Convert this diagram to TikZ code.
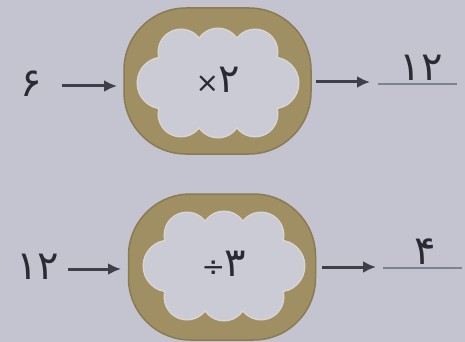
\documentclass[tikz,border=0pt]{standalone}
\usepackage{fontspec}
\newfontfamily\fa{DejaVu Sans}
\usetikzlibrary{arrows.meta}
\definecolor{bg}{HTML}{C3C4CF}
\definecolor{olivefill}{HTML}{9F8F63}
\definecolor{olivedark}{HTML}{8A7B52}
\definecolor{cloudfill}{HTML}{CACBD5}
\definecolor{cloudrim}{HTML}{D8D5D3}
\definecolor{ink}{HTML}{2A2A32}
\definecolor{rulecol}{HTML}{7E818E}
\newcommand\drawcloud[1]{%
  \begin{scope}[shift={(#1)}]
    \foreach \cx/\cy/\r in {-37/-31/22,0/-32/22,37/-31/22,-37/31/22,0/32/22,37/31/22,-55/0/25,55/0/25}{
      \draw[cloudrim, line width=3pt] (\cx,\cy) circle (\r);}
    \foreach \cx/\cy/\r in {-37/-31/22,0/-32/22,37/-31/22,-37/31/22,0/32/22,37/31/22,-55/0/25,55/0/25}{
      \fill[cloudfill] (\cx,\cy) circle (\r);}
    \fill[cloudfill] (-58,-34) rectangle (58,34);
  \end{scope}}
\newcommand\opsym[1]{{\fontsize{28}{30}\selectfont #1}}
\begin{document}
\begin{tikzpicture}[x=1pt,y=-1pt,
  machine/.style={draw=olivedark, line width=1.5pt, fill=olivefill, rounded corners=62pt,
    minimum width=187pt, minimum height=146pt, inner sep=0pt},
  num/.style={text=ink, font=\fa\fontsize{40}{44}\selectfont, inner sep=1pt},
  flow/.style={draw=ink!90, line width=3pt, -{Latex[length=13pt,width=12pt]}},
  answer/.style={draw=rulecol, line width=1.2pt}]
  \fill[bg] (0,0) rectangle (465,342);
  \useasboundingbox (0,0) rectangle (465,342);
  % top machine
  \node[machine] (frame1) at (217.5,81) {};
  \drawcloud{218,83}
  \node[num] (op1) at (218,80) {\opsym{×}۲};
  \node[num] (in1) at (31,84) {۶};
  \coordinate (in1e) at (62,86);
  \coordinate (f1w) at (117,86);
  \coordinate (f1e) at (316,82);
  \coordinate (o1a) at (370,82);
  \draw[flow] (in1e) -- (f1w);
  \draw[flow] (f1e) -- (o1a);
  \coordinate (l1a) at (378,84);
  \coordinate (l1b) at (457,84);
  \draw[answer] (l1a) -- (l1b);
  \node[num] (out1) at (421,68) {۱۲};
  % bottom machine
  \node[machine] (frame2) at (222,267) {};
  \drawcloud{224,266}
  \node[num] (op2) at (224,264) {\opsym{÷}۳};
  \node[num] (in2) at (38,267) {۱۲};
  \coordinate (in2e) at (68,269);
  \coordinate (f2w) at (121,269);
  \coordinate (f2e) at (322,267);
  \coordinate (o2a) at (376,267);
  \draw[flow] (in2e) -- (f2w);
  \draw[flow] (f2e) -- (o2a);
  \coordinate (l2a) at (383,268);
  \coordinate (l2b) at (462,268);
  \draw[answer] (l2a) -- (l2b);
  \node[num] (out2) at (425,252) {۴};
\end{tikzpicture}
\end{document}
